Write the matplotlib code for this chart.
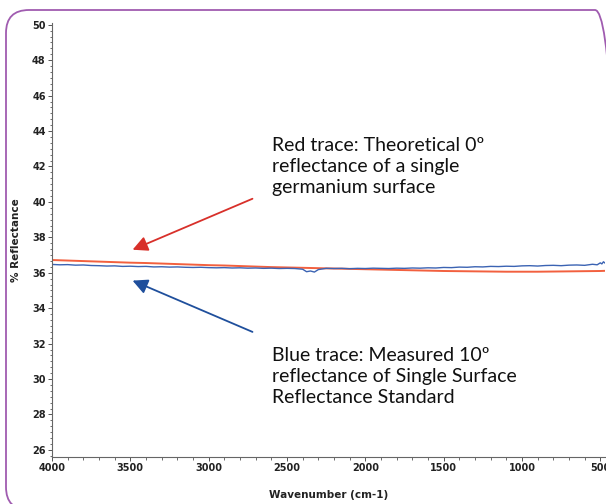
import matplotlib.pyplot as plt
from matplotlib.patches import FancyBboxPatch
from matplotlib.transforms import IdentityTransform
from matplotlib.ticker import MultipleLocator

red_wn = [4000, 3900, 3800, 3700, 3600, 3500, 3400, 3300, 3200, 3100, 3000, 2900, 2800,
          2700, 2600, 2500, 2400, 2300, 2200, 2100, 2000, 1900, 1800, 1700, 1600, 1500,
          1400, 1300, 1200, 1100, 1000, 900, 800, 700, 600, 500, 470]
red_refl = [36.72, 36.69, 36.66, 36.63, 36.60, 36.57, 36.55, 36.52, 36.49, 36.46, 36.43,
            36.41, 36.38, 36.35, 36.32, 36.30, 36.28, 36.26, 36.24, 36.22, 36.20, 36.18,
            36.16, 36.14, 36.12, 36.10, 36.09, 36.08, 36.07, 36.06, 36.06, 36.06, 36.07,
            36.08, 36.09, 36.10, 36.11]

blue_wn = [4000, 3950, 3900, 3850, 3800, 3750, 3700, 3650, 3600, 3550, 3500, 3450, 3400,
           3350, 3300, 3250, 3200, 3150, 3100, 3050, 3000, 2950, 2900, 2850, 2800, 2750,
           2700, 2650, 2600, 2550, 2500, 2450, 2400, 2375, 2350, 2325, 2300, 2250, 2200,
           2150, 2100, 2050, 2000, 1950, 1900, 1850, 1800, 1750, 1700, 1650, 1600, 1550,
           1500, 1450, 1400, 1350, 1300, 1250, 1200, 1150, 1100, 1050, 1000, 950, 900,
           850, 800, 750, 700, 650, 600, 550, 520, 500, 490, 480, 470]
blue_refl = [36.47, 36.45, 36.46, 36.43, 36.44, 36.41, 36.40, 36.38, 36.39, 36.36, 36.37,
             36.35, 36.36, 36.33, 36.34, 36.32, 36.33, 36.31, 36.30, 36.31, 36.29, 36.28,
             36.29, 36.27, 36.28, 36.26, 36.27, 36.25, 36.26, 36.24, 36.25, 36.24, 36.20,
             36.06, 36.10, 36.04, 36.18, 36.25, 36.24, 36.25, 36.23, 36.25, 36.24, 36.26,
             36.25, 36.24, 36.26, 36.25, 36.27, 36.26, 36.28, 36.27, 36.30, 36.29, 36.32,
             36.31, 36.34, 36.33, 36.36, 36.35, 36.37, 36.36, 36.39, 36.40, 36.38, 36.41,
             36.42, 36.40, 36.43, 36.44, 36.42, 36.48, 36.45, 36.56, 36.50, 36.62, 36.55]

x_ticks = [4000, 3500, 3000, 2500, 2000, 1500, 1000, 500]
y_ticks = [26, 28, 30, 32, 34, 36, 38, 40, 42, 44, 46, 48, 50]

red_note = "Red trace: Theoretical 0º\nreflectance of a single\ngermanium surface"
blue_note = "Blue trace: Measured 10º\nreflectance of Single Surface\nReflectance Standard"

fig = plt.figure(figsize=(6.06, 5.04), dpi=100)
ax = fig.add_axes([52 / 606, 47 / 504, 553 / 606, 434 / 504])

# rounded purple frame, runs off the right and bottom edges
frame = FancyBboxPatch((6, -6), 612, 500, boxstyle="round,pad=0,rounding_size=23",
                       transform=IdentityTransform(), fill=False,
                       edgecolor='#a05cb0', linewidth=1.3)
fig.patches.append(frame)

ax.plot(red_wn, red_refl, color='#f2603f', linewidth=1.4)
ax.plot(blue_wn, blue_refl, color='#3b63b3', linewidth=1.0)

ax.set_xlim(4000, 470)
ax.set_ylim(25.6, 50.1)
ax.set_xticks(x_ticks)
ax.set_yticks(y_ticks)
ax.xaxis.set_minor_locator(MultipleLocator(100))
ax.yaxis.set_minor_locator(MultipleLocator(1 / 3))

for s in ['top', 'right']:
    ax.spines[s].set_visible(False)
for s in ['left', 'bottom']:
    ax.spines[s].set_color('#666666')
    ax.spines[s].set_linewidth(0.8)
ax.tick_params(which='major', length=3, width=0.7, color='#555555', pad=1.5)
ax.tick_params(which='minor', length=1.8, width=0.6, color='#555555')
for lab in ax.get_xticklabels() + ax.get_yticklabels():
    lab.set_fontsize(7)
    lab.set_fontweight('bold')
    lab.set_family(['Liberation Sans Narrow', 'DejaVu Sans'])
    lab.set_color('#222222')

ax.set_xlabel('Wavenumber (cm-1)', fontsize=7.5, fontweight='bold', color='#222222',
              labelpad=12)
ax.set_ylabel('% Reflectance', fontsize=7.5, fontweight='bold', color='#222222',
              labelpad=8)

ax.annotate('', xy=(3502, 37.24), xytext=(2704, 40.24),
            arrowprops=dict(arrowstyle='-|>,head_length=0.9,head_width=0.45',
                            color='#d8302a', lw=1.3))
ax.annotate('', xy=(3502, 35.62), xytext=(2704, 32.6),
            arrowprops=dict(arrowstyle='-|>,head_length=0.9,head_width=0.45',
                            color='#1f4f9c', lw=1.3))

fig.text(272 / 606, 1 - 137 / 504, red_note, fontsize=14, family='Lato',
         va='top', ha='left', linespacing=1.3, color='#111111')
fig.text(272 / 606, 1 - 347 / 504, blue_note, fontsize=14, family='Lato',
         va='top', ha='left', linespacing=1.3, color='#111111')

fig.savefig('out.png', dpi=100)
